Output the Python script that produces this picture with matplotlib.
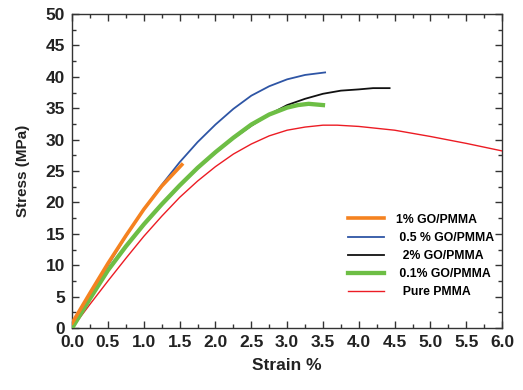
import matplotlib
matplotlib.use("Agg")
import matplotlib.pyplot as plt
from matplotlib.ticker import MultipleLocator

plt.rcParams["font.family"] = ["Liberation Sans", "DejaVu Sans"]
plt.rcParams["font.weight"] = "bold"

# stress-strain curves
strain_1 = [0.0, 0.25, 0.5, 0.75, 1.0, 1.25, 1.53]
stress_1 = [0.8, 5.6, 10.3, 14.7, 18.9, 22.6, 26.0]

strain_05 = [0.0, 0.25, 0.5, 0.75, 1.0, 1.25, 1.5, 1.75, 2.0, 2.25, 2.5, 2.75, 3.0, 3.25, 3.53]
stress_05 = [0.0, 5.2, 10.0, 14.6, 18.9, 22.8, 26.4, 29.6, 32.4, 34.9, 37.0, 38.5, 39.6, 40.3, 40.7]

strain_2 = [0.0, 0.25, 0.5, 0.75, 1.0, 1.25, 1.5, 1.75, 2.0, 2.25, 2.5, 2.75, 3.0, 3.25, 3.5, 3.75, 4.0, 4.2, 4.43]
stress_2 = [0.0, 4.7, 9.1, 12.9, 16.4, 19.6, 22.6, 25.4, 27.9, 30.2, 32.2, 34.0, 35.5, 36.5, 37.3, 37.8, 38.0, 38.2, 38.2]

strain_01 = [0.0, 0.25, 0.5, 0.75, 1.0, 1.25, 1.5, 1.75, 2.0, 2.25, 2.5, 2.75, 3.0, 3.15, 3.3, 3.5]
stress_01 = [0.0, 4.7, 9.2, 13.0, 16.5, 19.7, 22.7, 25.5, 28.0, 30.3, 32.4, 34.0, 35.1, 35.5, 35.7, 35.5]

strain_pure = [0.0, 0.25, 0.5, 0.75, 1.0, 1.25, 1.5, 1.75, 2.0, 2.25, 2.5, 2.75, 3.0, 3.25, 3.5, 3.7, 4.0, 4.5, 5.0, 5.5, 6.0]
stress_pure = [0.0, 3.8, 7.5, 11.1, 14.6, 17.8, 20.8, 23.4, 25.7, 27.7, 29.3, 30.6, 31.5, 32.0, 32.3, 32.3, 32.1, 31.5, 30.5, 29.4, 28.2]

labels = ["1% GO/PMMA", " 0.5 % GO/PMMA", "  2% GO/PMMA", " 0.1% GO/PMMA", "  Pure PMMA"]

fig = plt.figure(figsize=(5.23, 3.9), dpi=100)
ax = fig.add_axes([0.138, 0.159, 0.822, 0.805])

ax.plot(strain_1, stress_1, color="#F58220", lw=2.6, label=labels[0], zorder=5)
ax.plot(strain_05, stress_05, color="#2E55A5", lw=1.3, label=labels[1], zorder=4)
ax.plot(strain_2, stress_2, color="#111111", lw=1.3, label=labels[2], zorder=3)
ax.plot(strain_01, stress_01, color="#6DBE45", lw=3.1, label=labels[3], zorder=4)
ax.plot(strain_pure, stress_pure, color="#EC1C24", lw=1.0, label=labels[4], zorder=3)

ax.set_xlim(0, 6)
ax.set_ylim(0, 50)
ax.xaxis.set_major_locator(MultipleLocator(0.5))
ax.xaxis.set_minor_locator(MultipleLocator(0.25))
ax.yaxis.set_major_locator(MultipleLocator(5))
ax.yaxis.set_minor_locator(MultipleLocator(2.5))
ax.xaxis.set_major_formatter(lambda v, p: f"{v:.1f}")

ax.tick_params(which="both", direction="in", top=True, right=True, color="#333333")
ax.tick_params(which="major", length=5, width=1, labelsize=12.5, pad=5)
ax.tick_params(which="minor", length=3, width=1)
for s in ax.spines.values():
    s.set_color("#333333")
    s.set_linewidth(1.0)
for t in ax.get_xticklabels() + ax.get_yticklabels():
    t.set_fontweight("bold")
    t.set_color("#222222")

ax.set_xlabel("Strain %", fontsize=12.5, fontweight="bold", color="#222222", labelpad=6)
ax.set_ylabel("Stress (MPa)", fontsize=11, fontweight="bold", color="#222222", labelpad=11)

ax.legend(loc="lower right", bbox_to_anchor=(1.008, 0.06), frameon=False,
          prop={"size": 8.8, "weight": "bold"}, handlelength=3.0, labelspacing=0.5,
          handletextpad=1.0)

fig.savefig("out.png", dpi=100)
